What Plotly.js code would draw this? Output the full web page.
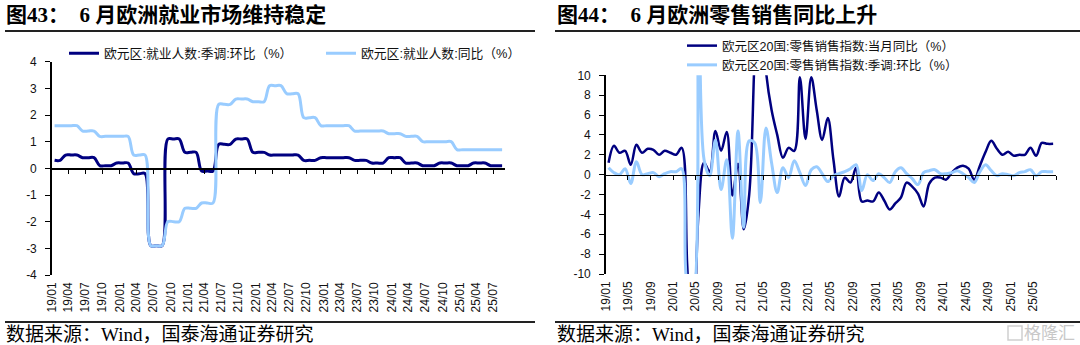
<!DOCTYPE html>
<html>
<head>
<meta charset="utf-8">
<script src="https://cdn.plot.ly/plotly-3.0.1.min.js"></script>
<style>
  html, body { margin: 0; padding: 0; background: #ffffff; }
  #chart { width: 1080px; height: 345px; }
</style>
</head>
<body>
<div id="chart"></div>
<script>
// ---------- categories: months Jan 2019 .. Aug 2025 ----------
const months = [];
for (let i = 0; i < 80; i++) {
  const yr = 2019 + Math.floor(i / 12), mo = (i % 12) + 1;
  months.push(yr + '-' + (mo < 10 ? '0' : '') + mo);
}

// ---------- Fig 43: euro area employment (%), monthly display of quarterly data ----------
const empQoq = [0.3,0.3, 0.5,0.5,0.5, 0.4,0.4,0.4, 0.1,0.1,0.1, 0.2,0.2,0.2,
  -0.2,-0.2,-0.2, -2.9,-2.9,-2.9, 1.1,1.1,1.1, 0.6,0.6,0.6, -0.1,-0.1,-0.1,
  0.9,0.9,0.9, 1.1,1.1,1.1, 0.6,0.6,0.6, 0.5,0.5,0.5, 0.5,0.5,0.5,
  0.3,0.3,0.3, 0.4,0.4,0.4, 0.4,0.4,0.4, 0.3,0.3,0.3, 0.2,0.2,0.2,
  0.4,0.4,0.4, 0.2,0.2,0.2, 0.1,0.1,0.1, 0.2,0.2,0.2, 0.1,0.1,0.1,
  0.2,0.2,0.2, 0.1,0.1,0.1];
const empYoy = [1.6,1.6, 1.6,1.6,1.6, 1.4,1.4,1.4, 1.2,1.2,1.2, 1.2,1.2,1.2,
  0.5,0.5,0.5, -2.9,-2.9,-2.9, -2.0,-2.0,-2.0, -1.5,-1.5,-1.5, -1.3,-1.3,-1.3,
  2.4,2.4,2.4, 2.6,2.6,2.6, 2.5,2.5,2.5, 3.1,3.1,3.1, 2.8,2.8,2.8,
  1.9,1.9,1.9, 1.6,1.6,1.6, 1.6,1.6,1.6, 1.4,1.4,1.4, 1.4,1.4,1.4,
  1.3,1.3,1.3, 1.2,1.2,1.2, 1.0,1.0,1.0, 1.0,1.0,1.0, 0.7,0.7,0.7,
  0.7,0.7,0.7, 0.7,0.7,0.7];

// ---------- Fig 44: euro area 20 retail sales (%) ----------
const retailYoy = [1.2,2.9,2.2,2.4,1.0,3.0,2.2,2.6,2.5,2.0,2.4,2.2,
  2.0,2.7,-9.0,-19.5,-4.0,1.2,0.3,4.4,2.4,4.3,-2.1,1.1,
  -5.5,-2.0,12.0,24.0,10.5,6.5,4.0,1.7,2.7,2.4,9.8,3.6,
  9.8,6.5,3.5,5.7,1.5,-2.2,-0.3,-0.8,0.7,-2.7,-2.6,-2.7,
  -1.8,-2.6,-3.5,-2.9,-2.3,-0.8,-1.2,-1.9,-3.2,-0.9,-0.3,-0.3,
  -0.5,0.2,0.7,0.9,0.6,-0.5,0.9,2.3,3.4,2.6,2.0,2.3,
  1.9,2.0,2.0,2.7,1.9,3.2,3.1,3.1];
const retailMom = [0.7,0.2,0.0,0.6,-0.9,1.3,0.0,0.1,0.2,-0.2,0.1,0.3,
  0.3,0.6,-11.0,-12.0,20.0,1.5,-0.1,3.5,-1.5,1.5,-6.4,4.4,
  -5.3,3.4,3.2,-2.8,4.7,1.2,-1.8,0.7,-0.3,1.4,0.2,-1.1,
  0.5,0.8,0.1,-0.7,-0.1,0.1,0.3,0.6,1.0,-1.6,0.0,-0.6,
  0.1,-0.3,-0.8,0.3,0.7,0.1,-0.4,-1.0,0.2,0.4,0.5,0.1,
  0.1,0.2,0.4,0.1,-0.3,-0.8,0.3,1.0,0.4,-0.1,0.1,0.0,
  -0.1,0.2,0.3,0.5,-0.1,0.3,0.3,0.3];

// ---------- labels ----------
const leftTickLabels = ['19/01','19/04','19/07','19/10','20/01','20/04','20/07','20/10',
  '21/01','21/04','21/07','21/10','22/01','22/04','22/07','22/10','23/01','23/04','23/07',
  '23/10','24/01','24/04','24/07','24/10','25/01','25/04','25/07'];
const rightTickLabels = ['19/01','19/05','19/09','20/01','20/05','20/09','21/01','21/05',
  '21/09','22/01','22/05','22/09','23/01','23/05','23/09','24/01','24/05','24/09','25/01','25/05'];
const leftYTicks = [-4,-3,-2,-1,0,1,2,3,4];
const rightYTicks = [-10,-8,-6,-4,-2,0,2,4,6,8,10];
const names = {
  empQoq: '欧元区:就业人数:季调:环比（%）',
  empYoy: '欧元区:就业人数:同比（%）',
  retailYoy: '欧元区20国:零售销售指数:当月同比（%）',
  retailMom: '欧元区20国:零售销售指数:季调:环比（%）'
};
const titles = {
  left: '<b>图43：\u00a0\u00a06\u00a0月欧洲就业市场维持稳定</b>',
  right: '<b>图44：\u00a0\u00a06\u00a0月欧洲零售销售同比上升</b>'
};
const sourceText = '数据来源：Wind，国泰海通证券研究';

// ---------- geometry (pixels in a 1080x345 page) ----------
const W = 1080, H = 345;
const PX = v => v / W, PY = v => 1 - v / H;
const LB = { x0: 51.7, x1: 505, top: 61.7, bot: 275, lo: -4, hi: 4 };
const RB = { x0: 605.7, x1: 1056, top: 75.3, bot: 274, lo: -10, hi: 10 };
const zeroPos = b => PY(b.bot - (0 - b.lo) / (b.hi - b.lo) * (b.bot - b.top));
const toDate = s => '20' + s.slice(0, 2) + '-' + s.slice(3) + '-01';
const xRange = ['2019-01-01', '2025-09-01'];

const DARK = '#000080', LIGHT = '#99CCFF';
const latin = 'Liberation Sans, Arial, Noto Sans CJK SC, sans-serif';
const serif = 'Liberation Serif, Noto Sans CJK SC, serif';
const legFont = 'Liberation Sans, Noto Sans CJK SC, sans-serif';

const lineTrace = (y, name, color, width, xa, ya, legend) => ({
  type: 'scatter', mode: 'lines', x: months, y: y, name: name,
  xperiod: 'M1', xperiodalignment: 'middle',
  line: { color: color, width: width, shape: 'spline', smoothing: 1 },
  xaxis: xa, yaxis: ya, legend: legend, hoverinfo: 'skip'
});
const dummy = (xa, ya) => ({ type: 'scatter', mode: 'lines', x: [], y: [], xaxis: xa, yaxis: ya,
  showlegend: false, hoverinfo: 'skip' });

const data = [
  lineTrace(empQoq, names.empQoq, DARK, 3, 'x', 'y', 'legend'),
  lineTrace(empYoy, names.empYoy, LIGHT, 3, 'x', 'y', 'legend3'),
  lineTrace(retailYoy, names.retailYoy, DARK, 2.5, 'x2', 'y2', 'legend2'),
  lineTrace(retailMom, names.retailMom, LIGHT, 3, 'x2', 'y2', 'legend2'),
  dummy('x3', 'y'),
  dummy('x4', 'y2')
];

const labelAxis = (b, labels, anchor) => ({
  domain: [PX(b.x0), PX(b.x1)], type: 'date', range: xRange, anchor: anchor,
  tickmode: 'array', tickvals: labels.map(toDate), ticktext: labels,
  tickangle: -90, ticks: '', showline: false, showgrid: false, zeroline: false,
  tickfont: { family: latin, size: 12, color: '#111' }, ticklabelstandoff: 4
});
const zeroAxis = (b, dtick, overl) => ({
  domain: [PX(b.x0), PX(b.x1)], type: 'date', range: xRange, overlaying: overl,
  anchor: 'free', position: zeroPos(b), tick0: '2019-01-01', dtick: dtick,
  showline: true, linecolor: '#000', linewidth: 1.5, ticks: 'outside', ticklen: 4,
  tickwidth: 1, tickcolor: '#000', showticklabels: false, showgrid: false, zeroline: false
});
const valueAxis = (b, ticks, anchor) => ({
  domain: [PY(b.bot), PY(b.top)], range: [b.lo, b.hi], anchor: anchor,
  tickmode: 'array', tickvals: ticks, ticktext: ticks.map(String),
  showline: true, linecolor: '#000', linewidth: 1.5, ticks: 'outside', ticklen: 5,
  tickwidth: 1, tickcolor: '#000', showgrid: false, zeroline: false,
  tickfont: { family: latin, size: 12, color: '#111' }, ticklabelstandoff: 6
});

const legendBase = (x, y, size) => ({
  x: PX(x), y: PY(y), xanchor: 'left', yanchor: 'top', bgcolor: 'rgba(0,0,0,0)',
  borderwidth: 0, font: { family: legFont, size: size, color: '#111' },
  itemwidth: 30, tracegroupgap: 0, orientation: 'v'
});

const layout = {
  width: W, height: H, margin: { l: 0, r: 0, t: 0, b: 0 },
  paper_bgcolor: '#fff', plot_bgcolor: 'rgba(0,0,0,0)',
  showlegend: true,
  xaxis: labelAxis(LB, leftTickLabels, 'y'),
  yaxis: valueAxis(LB, leftYTicks, 'x'),
  xaxis2: labelAxis(RB, rightTickLabels, 'y2'),
  yaxis2: valueAxis(RB, rightYTicks, 'x2'),
  xaxis3: zeroAxis(LB, 'M3', 'x'),
  xaxis4: zeroAxis(RB, 'M4', 'x2'),
  legend: legendBase(64, 38.5, 12.8),
  legend3: legendBase(321, 38.5, 12.8),
  legend2: legendBase(682, 31, 12.5),
  shapes: [
    { type: 'line', xref: 'paper', yref: 'paper', x0: PX(5), x1: PX(535), y0: PY(31), y1: PY(31), line: { color: '#222', width: 2 } },
    { type: 'line', xref: 'paper', yref: 'paper', x0: PX(555), x1: PX(1080), y0: PY(31), y1: PY(31), line: { color: '#222', width: 2 } },
    { type: 'line', xref: 'paper', yref: 'paper', x0: PX(5), x1: PX(535), y0: PY(322), y1: PY(322), line: { color: '#222', width: 2 } },
    { type: 'line', xref: 'paper', yref: 'paper', x0: PX(555), x1: PX(1080), y0: PY(322), y1: PY(322), line: { color: '#222', width: 2 } },
    { type: 'rect', xref: 'paper', yref: 'paper', x0: PX(1008), x1: PX(1022), y0: PY(340), y1: PY(326), line: { color: '#cfcfcf', width: 1.5 } }
  ],
  annotations: [
    { text: titles.left, xref: 'paper', yref: 'paper', x: PX(4), y: PY(15), xanchor: 'left', yanchor: 'middle', showarrow: false, font: { family: serif, size: 21, color: '#000' } },
    { text: titles.right, xref: 'paper', yref: 'paper', x: PX(555), y: PY(15), xanchor: 'left', yanchor: 'middle', showarrow: false, font: { family: serif, size: 21, color: '#000' } },
    { text: sourceText, xref: 'paper', yref: 'paper', x: PX(4), y: PY(334), xanchor: 'left', yanchor: 'middle', showarrow: false, font: { family: serif, size: 19, color: '#000' } },
    { text: sourceText, xref: 'paper', yref: 'paper', x: PX(555), y: PY(334), xanchor: 'left', yanchor: 'middle', showarrow: false, font: { family: serif, size: 19, color: '#000' } },
    { text: '格隆汇', xref: 'paper', yref: 'paper', x: PX(1077), y: PY(333), xanchor: 'right', yanchor: 'middle', showarrow: false, font: { family: legFont, size: 17, color: '#c8c8c8' } }
  ]
};

Plotly.newPlot('chart', data, layout, { staticPlot: true, displayModeBar: false });
</script>
</body>
</html>
